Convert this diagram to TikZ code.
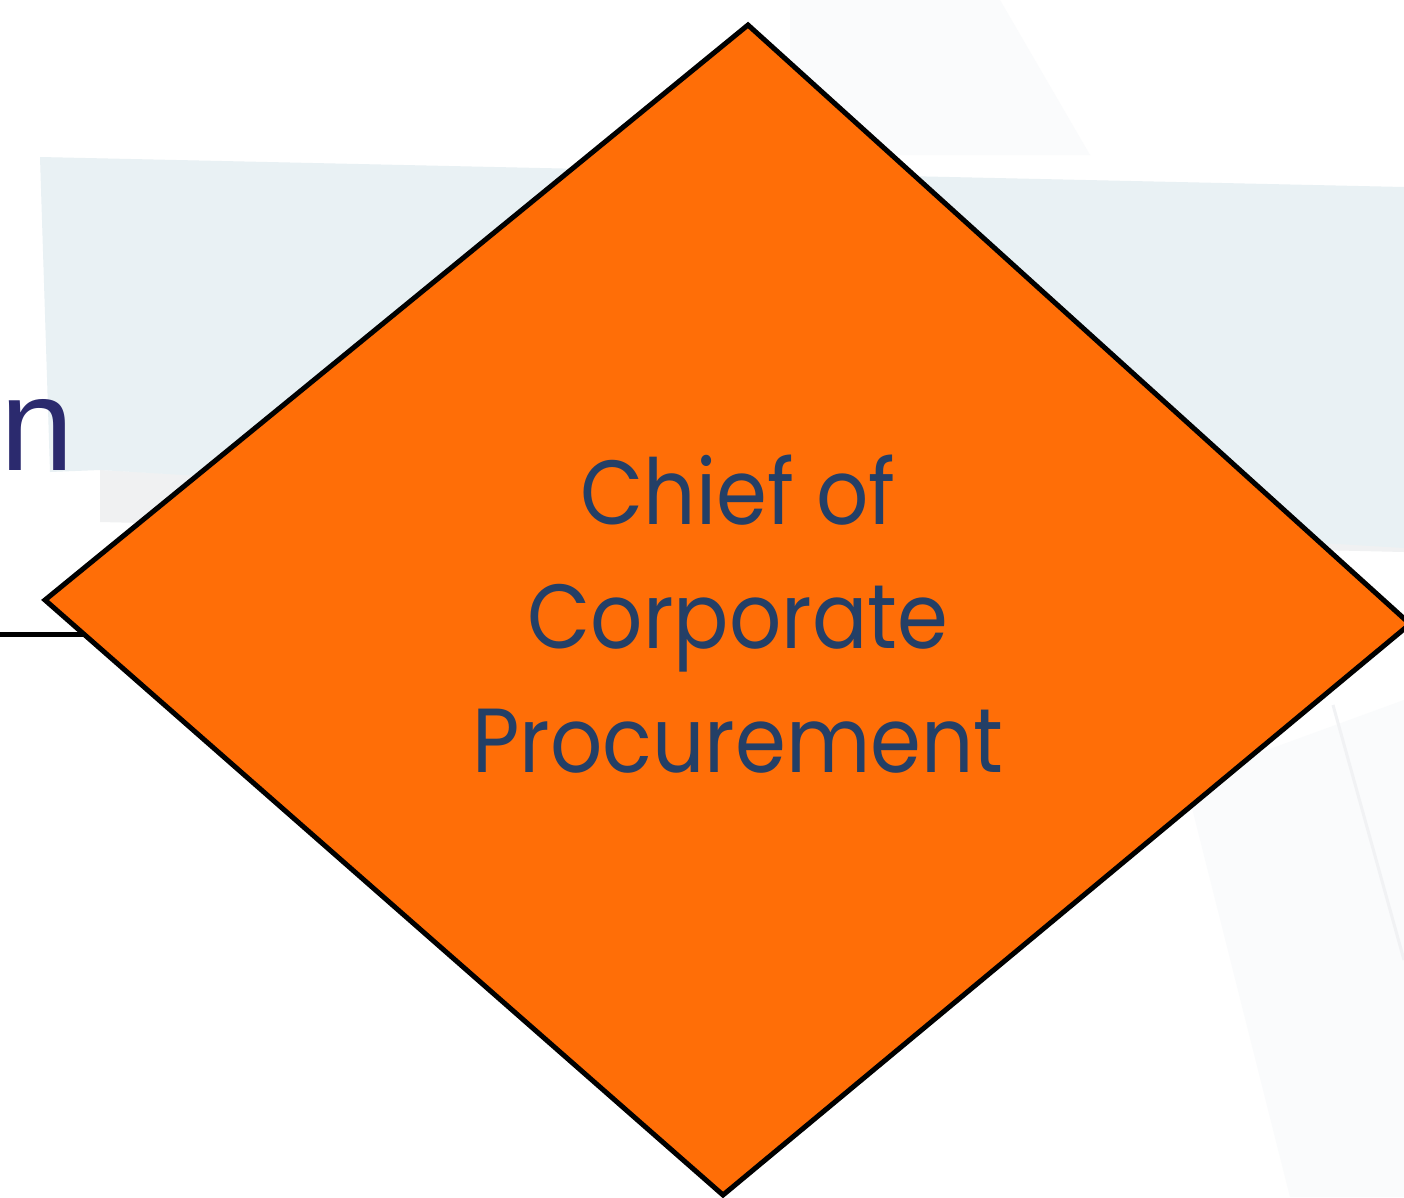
\documentclass[tikz,border=0pt]{standalone}
\usepackage{fontspec}
\newfontfamily\geofont[FakeStretch=0.9]{Poppins}
\newfontfamily\sidefont{Liberation Sans}
\definecolor{bandblue}{HTML}{E9F1F4}
\definecolor{bandgrey}{HTML}{F0F1F2}
\definecolor{hazegrey}{HTML}{FAFBFC}
\definecolor{hazeline}{HTML}{F1F2F4}
\definecolor{deciorange}{HTML}{FF6E07}
\definecolor{textnavy}{HTML}{243F66}
\definecolor{sidenavy}{HTML}{2B2A6E}
\tikzset{
  decision/.style={fill=deciorange, draw=black, line width=5pt, line join=miter},
  flowline/.style={draw=black, line width=5pt},
  decisiontext/.style={text=textnavy, align=center, inner sep=0pt,
    font=\geofont\fontsize{91}{124}\selectfont},
  sidetext/.style={text=sidenavy, inner sep=0pt,
    font=\sidefont\fontsize{132}{150}\selectfont}
}
\begin{document}
\begin{tikzpicture}[x=1pt,y=-1pt]
\useasboundingbox (0,0) rectangle (1404,1197);
\fill[white] (0,0) rectangle (1404,1197);

% faint background panels
\fill[hazegrey] (790,0) -- (1000,0) -- (1090,155) -- (790,155) -- cycle;
\fill[hazegrey] (1185,780) -- (1404,700) -- (1404,1197) -- (1290,1197) -- cycle;
\draw[hazeline, line width=3pt] (1333,705) -- (1404,960);
\fill[bandgrey] (100,470) -- (1404,540) -- (1404,552) -- (100,522) -- cycle;
\fill[bandblue] (40,157) -- (1404,187) -- (1404,548) -- (100,470) -- (50,472) -- cycle;

% text running in from the left border
\node[sidetext, anchor=base west] (sidelabel) at (0,470) {n};

% decision diamond
\coordinate (dl) at (45,600);
\coordinate (dt) at (748,25);
\coordinate (dr) at (1410,624);
\coordinate (db) at (723,1195);
\draw[decision] (dl) -- (dt) -- (dr) -- (db) -- cycle;

% incoming flow line
\coordinate (lineend) at (0,634);
\coordinate (edgein) at (84,634);
\draw[flowline] (lineend) -- (edgein);

\node[decisiontext] (chief) at (738,614) {Chief of\\Corporate\\Procurement};
\end{tikzpicture}
\end{document}
